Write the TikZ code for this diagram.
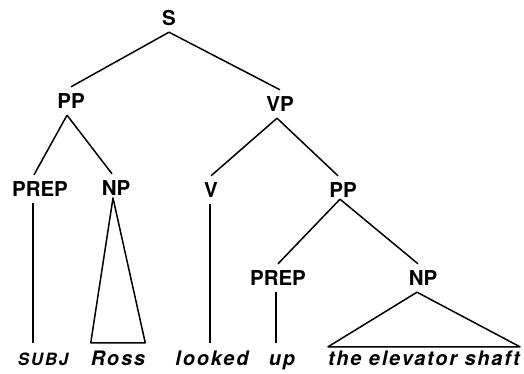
\documentclass[tikz,border=0pt]{standalone}
\usepackage{fontspec}
\setmainfont{TeX Gyre Heros}
\usepackage{tikz}
\usetikzlibrary{positioning}

\tikzset{
  cat/.style={font=\fontsize{20.5}{23}\selectfont\bfseries, anchor=base,
    inner xsep=0pt, inner ysep=7pt, text height=14pt, text depth=0pt},
  leaf/.style={font=\fontsize{20}{23}\selectfont\bfseries\itshape\addfontfeatures{LetterSpace=9},
    anchor=base, inner xsep=0pt, inner ysep=8pt, text height=14pt, text depth=0pt},
  branch/.style={line width=1.5pt, line join=round},
}

\begin{document}
\begin{tikzpicture}[x=1pt, y=-1pt]
    \useasboundingbox (0,0) rectangle (524,373);
    %categorie
    \node[cat] (s) at (169,25) {S};
    \node[cat] (pp) at (71,108) {PP};
    \node[cat] (vp) at (280,111) {VP};
    \node[cat] (prep) at (40,196) {PREP};
    \node[cat] (np) at (116,195) {NP};
    \node[cat] (v) at (211,197) {V};
    \node[cat] (ppup) at (343,197) {PP};
    \node[cat] (prepup) at (278,285) {PREP};
    \node[cat] (npshaft) at (423,285) {NP};

    %parole
    \node[leaf, font=\fontsize{17}{19}\selectfont\bfseries\itshape\addfontfeatures{LetterSpace=10}] (subj) at (43,365) {SUBJ};
    \node[leaf] (ross) at (118,365) {Ross};
    \node[leaf] (looked) at (212,365) {looked};
    \node[leaf] (up) at (282,365) {up};
    \node[leaf] (shaft) at (424,365) {the elevator shaft};

    %rami
    \draw[branch] (s.south) -- (pp.north);
    \draw[branch] (s.south) -- (vp.north);
    \draw[branch] ([xshift=-4pt]pp.south) -- ([xshift=-6pt]prep.north);
    \draw[branch] ([xshift=-4pt]pp.south) -- ([xshift=-4pt]np.north);
    \draw[branch] ([xshift=-3pt]vp.south) -- (v.north);
    \draw[branch] ([xshift=-3pt]vp.south) -- ([xshift=-5pt]ppup.north);
    \draw[branch] ([xshift=-3pt,yshift=5pt]ppup.south) -- (prepup.north);
    \draw[branch] ([xshift=-3pt,yshift=5pt]ppup.south) -- ([xshift=-5pt]npshaft.north);

    %linee verticali
    \draw[branch] ([xshift=-7pt]prep.south) -- ([xshift=-7pt]prep.south |- subj.north);
    \draw[branch] ([xshift=-1pt]v.south) -- ([xshift=-1pt]v.south |- looked.north);
    \draw[branch] ([xshift=-2pt]prepup.south) -- ([xshift=-2pt]prepup.south |- up.north);

    %triangoli
    \draw[branch] ([xshift=-3pt,yshift=-3pt]np.base) -- (ross.north west) -- (ross.north east) -- cycle;
    \draw[branch] ([xshift=-6pt]npshaft.south) -- ([yshift=-4pt]shaft.north west) -- ([yshift=-4pt]shaft.north east) -- cycle;
\end{tikzpicture}
\end{document}
